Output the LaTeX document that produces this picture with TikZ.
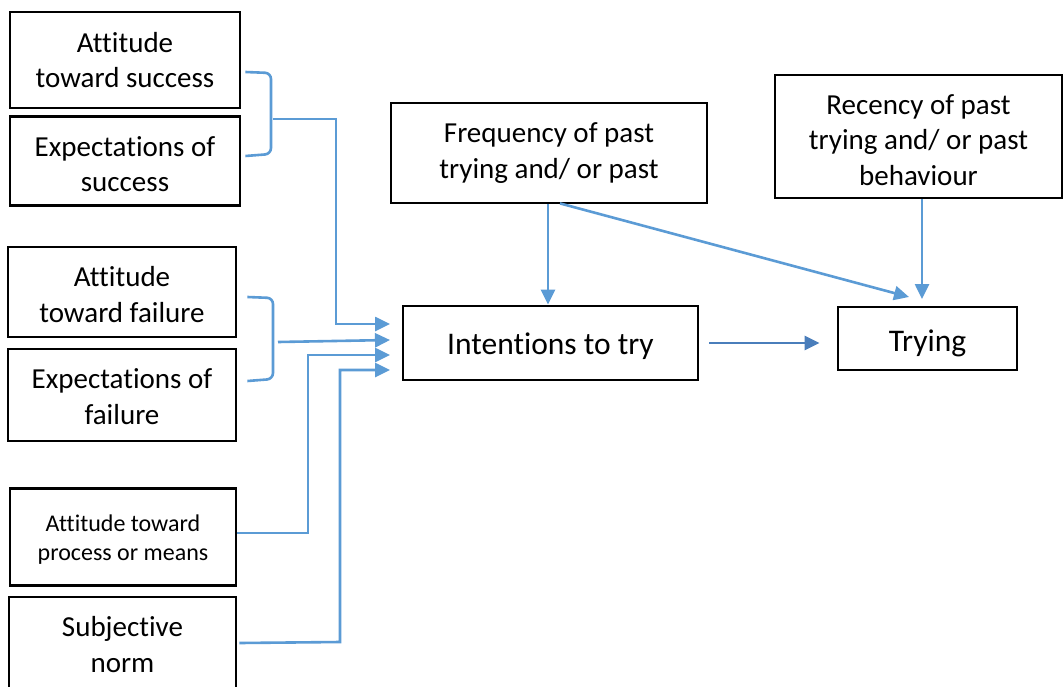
\documentclass[tikz,border=0pt]{standalone}
\usepackage{fontspec}
\setmainfont{Carlito}[Ligatures={NoCommon}]
\usetikzlibrary{arrows.meta}
\definecolor{linkblue}{HTML}{5B9BD5}
\definecolor{mainblue}{HTML}{4A7EBB}
% lower a line of text without changing the space it takes
\newcommand{\shiftdown}[2]{\raisebox{-#1}[\height][\depth]{#2}}
\begin{document}
\begin{tikzpicture}[x=1pt,y=-1pt,
  box/.style={draw=black,line width=2.8pt,inner sep=0pt,align=center,text=black,
    font=\fontsize{29}{35.5}\selectfont},
  smallbox/.style={box,font=\fontsize{24}{29}\selectfont},
  bigbox/.style={box,font=\fontsize{31.5}{38}\selectfont},
  link/.style={draw=linkblue,line width=2.6pt},
  tip/.style={-{Triangle[length=15pt,width=14pt]}},
  brace/.style={link,rounded corners=6pt}]
\clip (0,0) rectangle (1063,686);
\fill[white] (0,0) rectangle (1063,686);

% left column of factors
\node[box,minimum width=230,minimum height=96] (atsucc) at (125,60) {Attitude\\toward success};
\node[box,minimum width=230,minimum height=89] (exsucc) at (125,161) {\shiftdown{3pt}{Expectations of}\\\shiftdown{3pt}{success}};
\node[box,minimum width=228,minimum height=90] (atfail) at (122,292) {\shiftdown{2.5pt}{Attitude}\\\shiftdown{2.5pt}{toward failure}};
\node[box,minimum width=228,minimum height=92] (exfail) at (122,395) {\shiftdown{1.5pt}{Expectations of}\\\shiftdown{1.5pt}{failure}};
\node[smallbox,minimum width=226,minimum height=97] (atproc) at (123,537) {\shiftdown{3pt}{Attitude toward}\\\shiftdown{3pt}{process or means}};
\node[box,minimum width=227,minimum height=95] (subj) at (122.5,644.5) {Subjective\\norm};

% past behaviour
\node[box,minimum width=316,minimum height=100] (freq) at (549,153) {Frequency of past\\trying and/ or past};
\node[box,minimum width=287,minimum height=123] (rec) at (918.5,136.5) {\shiftdown{3.5pt}{Recency of past}\\\shiftdown{3.5pt}{trying and/ or past}\\\shiftdown{3.5pt}{behaviour}};

% outcomes
\node[bigbox,minimum width=295,minimum height=74] (int) at (550.5,343) {\shiftdown{3pt}{Intentions to try}};
\node[bigbox,minimum width=179,minimum height=63] (try) at (927.5,338.5) {\shiftdown{5pt}{Trying}};

% arrow tips in front of the intentions box
\coordinate (t1) at (390,324);
\coordinate (t2) at (390,340);
\coordinate (t3) at (390,355);
\coordinate (t4) at (390,370);

% success bracket
\draw[brace] ([xshift=4]atsucc.east |- 0,72) -- (271,73) -- (271,154) -- ([xshift=4]exsucc.east |- 0,156);
\draw[link,tip] (273,119) -- (336,119) |- (t1);

% failure bracket
\draw[brace] ([xshift=10]atfail.east |- 0,297) -- (273,298) -- (273,379) -- ([xshift=10]exfail.east |- 0,381);
\draw[link,tip] (278,342) -- (t2);

% process or means, subjective norm
\draw[link,tip] (atproc.east |- 0,533) -- (308,533) |- (t3);
\draw[link,tip] ([xshift=2]subj.east |- 0,643) -- (340,642) |- (t4);

% past behaviour links
\draw[link,tip] ([xshift=-1]freq.south) -- ([xshift=-1]freq.south |- int.north);
\draw[link,tip] ([xshift=11,yshift=1]freq.south) -- (909,297);
\draw[link,tip] ([xshift=3.5]rec.south) -- ([xshift=3.5]rec.south |- 0,299);

% intentions to trying
\draw[draw=mainblue,line width=2.7pt,tip] ([xshift=10]int.east) -- ([xshift=-17]try.west |- int.east);
\end{tikzpicture}
\end{document}
